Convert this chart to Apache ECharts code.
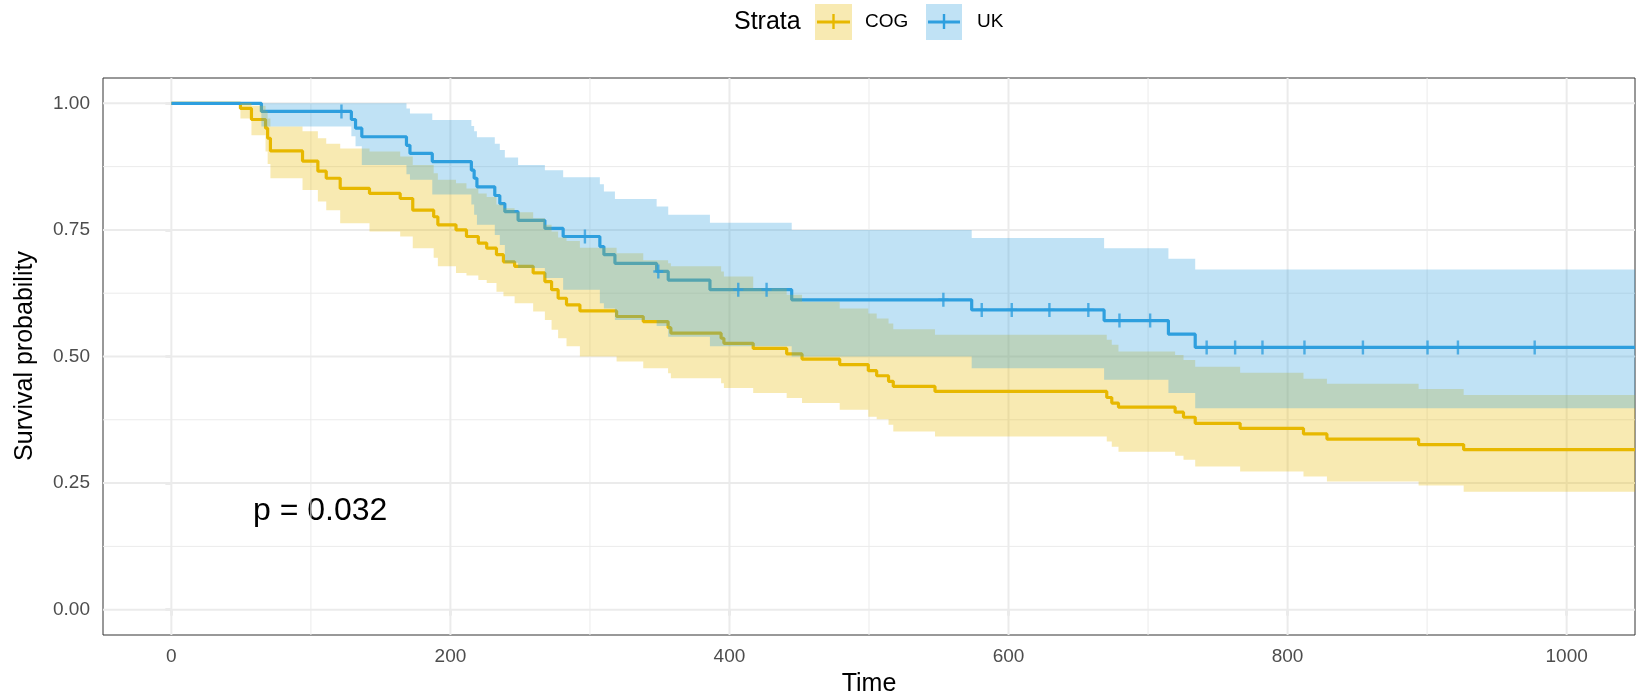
<!DOCTYPE html>
<html>
<head>
<meta charset="utf-8">
<script src="https://cdn.jsdelivr.net/npm/echarts@6/dist/echarts.min.js"></script>
<style>
  html, body { margin: 0; padding: 0; background: #ffffff; }
  #chart { width: 1639px; height: 698px; }
</style>
</head>
<body>
<div id="chart"></div>
<script>
// Axis ticks and grid positions
const xTicks = [0, 200, 400, 600, 800, 1000];
const xMinor = [100, 300, 500, 700, 900];
const yTicks = [0, 0.25, 0.5, 0.75, 1];
const yMinor = [0.125, 0.375, 0.625, 0.875];

// End of follow-up shown on the time axis
const followUpEnd = 1049;

// COG: Kaplan-Meier estimate with 95% confidence band (value holds from each time onward)
const cogTime = [0, 49.5, 57.4, 67.5, 69, 71, 94, 105, 111, 121, 142, 164, 173, 188, 191, 204, 211.5, 220, 226, 233,
  238, 246, 259.3, 267.7, 272.5, 277.2, 283.2, 292.8, 319.1, 338.2, 356, 358, 394, 396, 417, 441, 452, 479, 499.5, 505.5,
  514, 517.4, 547.3, 670.4, 674, 678.8, 719.4, 725.4, 733.8, 766, 811.4, 828.2, 893.9, 926.2];
const cogSurv = [1.000, 0.990, 0.968, 0.951, 0.931, 0.906, 0.886, 0.866, 0.852, 0.832, 0.822, 0.812, 0.789, 0.776, 0.760, 0.750, 0.737, 0.724, 0.714, 0.701,
  0.687, 0.678, 0.665, 0.648, 0.632, 0.615, 0.602, 0.590, 0.579, 0.569, 0.557, 0.546, 0.536, 0.526, 0.516, 0.505, 0.495, 0.484, 0.472, 0.462,
  0.451, 0.441, 0.431, 0.419, 0.408, 0.400, 0.390, 0.380, 0.368, 0.358, 0.347, 0.337, 0.326, 0.316];
const cogUpper = [1.000, 1.000, 0.995, 0.985, 0.970, 0.954, 0.945, 0.931, 0.920, 0.911, 0.905, 0.895, 0.878, 0.862, 0.849, 0.842, 0.832, 0.822, 0.815, 0.800,
  0.793, 0.785, 0.773, 0.760, 0.747, 0.735, 0.728, 0.715, 0.704, 0.690, 0.684, 0.678, 0.668, 0.658, 0.635, 0.622, 0.608, 0.595, 0.585, 0.575,
  0.565, 0.554, 0.543, 0.533, 0.523, 0.510, 0.503, 0.493, 0.480, 0.468, 0.456, 0.446, 0.436, 0.424];
const cogLower = [1.000, 0.970, 0.937, 0.905, 0.880, 0.852, 0.829, 0.806, 0.789, 0.763, 0.747, 0.737, 0.714, 0.695, 0.678, 0.665, 0.660, 0.651, 0.645, 0.628,
  0.619, 0.605, 0.589, 0.572, 0.553, 0.536, 0.520, 0.500, 0.490, 0.477, 0.467, 0.457, 0.447, 0.438, 0.428, 0.418, 0.408, 0.395, 0.381, 0.376,
  0.365, 0.352, 0.342, 0.332, 0.322, 0.312, 0.304, 0.296, 0.283, 0.273, 0.263, 0.253, 0.245, 0.233];

// UK: Kaplan-Meier estimate with 95% confidence band
const ukTime = [0, 64.5, 129, 132, 136.5, 168.5, 171, 187, 215, 217, 219, 231.8, 235.4, 239, 248.5, 267.7, 280.8, 307.1, 310, 317.9,
  347.8, 356.1, 386, 444.6, 573.6, 668.5, 714.6, 733.8];
const ukSurv = [1.000, 0.984, 0.968, 0.951, 0.934, 0.917, 0.901, 0.885, 0.868, 0.852, 0.835, 0.818, 0.802, 0.786, 0.769, 0.753, 0.737, 0.717, 0.701, 0.684,
  0.668, 0.651, 0.632, 0.612, 0.592, 0.571, 0.544, 0.518];
const ukUpper = [1.000, 1.000, 1.000, 1.000, 1.000, 0.990, 0.980, 0.967, 0.955, 0.945, 0.933, 0.920, 0.908, 0.893, 0.878, 0.868, 0.854, 0.840, 0.826, 0.811,
  0.796, 0.780, 0.764, 0.750, 0.734, 0.714, 0.693, 0.672];
const ukLower = [1.000, 0.954, 0.935, 0.915, 0.878, 0.860, 0.849, 0.820, 0.800, 0.780, 0.760, 0.740, 0.720, 0.685, 0.675, 0.655, 0.632, 0.605, 0.595, 0.572,
  0.560, 0.539, 0.520, 0.500, 0.477, 0.454, 0.428, 0.398];
// UK censoring times
const ukCensor = [121.9, 296.4, 349, 406.3, 426.6, 553.3, 580.8, 602.3, 629.3, 657.2, 679.5, 701.5, 742, 762.4, 782, 812.1, 854, 900.3, 922.1, 977.1];

const pValueText = 'p = 0.032';

const COG_COLOR = '#E7B800';
const UK_COLOR = '#2E9FDF';
const COG_FILL = 'rgba(231,184,0,0.3)';
const UK_FILL = 'rgba(46,159,223,0.3)';
const GRID_COLOR = '#ebebeb';
const FONT = '"Liberation Sans", Arial, Helvetica, sans-serif';

// Step-function value at time t
function stepValue(times, values, t) {
  let v = values[0];
  for (let i = 0; i < times.length; i++) {
    if (times[i] <= t) v = values[i]; else break;
  }
  return v;
}

function stepLineData(times, values) {
  const d = times.map((t, i) => [t, values[i]]);
  d.push([followUpEnd, values[values.length - 1]]);
  return d;
}

// Confidence band as a stepped polygon drawn through the axis scales
function bandSeries(times, upper, lower, fill) {
  return {
    type: 'custom',
    z: 3,
    silent: true,
    clip: true,
    data: [[0, 1]],
    renderItem: function (params, api) {
      const pts = [];
      for (let i = 0; i < times.length; i++) {
        const x0 = times[i];
        const x1 = i < times.length - 1 ? times[i + 1] : followUpEnd;
        pts.push(api.coord([x0, upper[i]]));
        pts.push(api.coord([x1, upper[i]]));
      }
      for (let i = times.length - 1; i >= 0; i--) {
        const x0 = times[i];
        const x1 = i < times.length - 1 ? times[i + 1] : followUpEnd;
        pts.push(api.coord([x1, lower[i]]));
        pts.push(api.coord([x0, lower[i]]));
      }
      return { type: 'polygon', shape: { points: pts }, style: { fill: fill } };
    }
  };
}

// Panel grid lines (major and minor), drawn beneath all data
const gridSeries = {
  type: 'custom',
  z: 1,
  silent: true,
  clip: true,
  data: [[0, 0]],
  renderItem: function (params, api) {
    const xMin = -49, xMax = followUpEnd, yMin = -0.05, yMax = 1.05;
    const children = [];
    const hLine = (v, w) => {
      const a = api.coord([xMin, v]), b = api.coord([xMax, v]);
      children.push({ type: 'line', shape: { x1: a[0], y1: a[1], x2: b[0], y2: b[1] }, style: { stroke: GRID_COLOR, lineWidth: w } });
    };
    const vLine = (v, w) => {
      const a = api.coord([v, yMin]), b = api.coord([v, yMax]);
      children.push({ type: 'line', shape: { x1: a[0], y1: a[1], x2: b[0], y2: b[1] }, style: { stroke: GRID_COLOR, lineWidth: w } });
    };
    yMinor.forEach(v => hLine(v, 1));
    xMinor.forEach(v => vLine(v, 1));
    yTicks.forEach(v => hLine(v, 2));
    xTicks.forEach(v => vLine(v, 2));
    return { type: 'group', children: children };
  }
};

const plusPath = 'path://M-1.2,-7 L1.2,-7 L1.2,-1.2 L5,-1.2 L5,1.2 L1.2,1.2 L1.2,7 L-1.2,7 L-1.2,1.2 L-5,1.2 L-5,-1.2 L-1.2,-1.2 Z';

const chart = echarts.init(document.getElementById('chart'), null, { renderer: 'canvas' });

const option = {
  animation: false,
  backgroundColor: '#ffffff',
  grid: {
    left: 103, top: 78, width: 1532, height: 557,
    show: true, borderColor: '#333333', borderWidth: 1, backgroundColor: '#ffffff'
  },
  xAxis: {
    type: 'value', min: -49, max: followUpEnd,
    axisLine: { show: false },
    axisTick: { show: true, customValues: xTicks, length: 6, lineStyle: { color: '#333333', width: 1.2 } },
    axisLabel: { customValues: xTicks, fontSize: 19, fontFamily: FONT, color: '#4d4d4d', margin: 12,
      formatter: v => String(v) },
    splitLine: { show: false }
  },
  yAxis: {
    type: 'value', min: -0.05, max: 1.05,
    axisLine: { show: false },
    axisTick: { show: true, customValues: yTicks, length: 6, lineStyle: { color: '#333333', width: 1.2 } },
    axisLabel: { customValues: yTicks, fontSize: 19, fontFamily: FONT, color: '#4d4d4d', margin: 13,
      formatter: v => v.toFixed(2) },
    splitLine: { show: false }
  },
  series: [
    gridSeries,
    {
      name: 'COG', type: 'line', step: 'end', z: 2, showSymbol: false, silent: true,
      data: stepLineData(cogTime, cogSurv),
      lineStyle: { color: COG_COLOR, width: 3.2 }
    },
    {
      name: 'UK', type: 'line', step: 'end', z: 2, showSymbol: false, silent: true,
      data: stepLineData(ukTime, ukSurv),
      lineStyle: { color: UK_COLOR, width: 3.2 }
    },
    bandSeries(cogTime, cogUpper, cogLower, COG_FILL),
    bandSeries(ukTime, ukUpper, ukLower, UK_FILL),
    {
      name: 'UK censored', type: 'scatter', z: 4, silent: true,
      symbol: plusPath, symbolSize: [10, 14],
      itemStyle: { color: UK_COLOR },
      data: ukCensor.map(t => [t, stepValue(ukTime, ukSurv, t)])
    }
  ],
  graphic: [
    // axis titles
    { type: 'text', x: 869, y: 684, silent: true,
      style: { text: 'Time', fontSize: 25, fontFamily: FONT, fill: '#000000', align: 'center', verticalAlign: 'middle' } },
    { type: 'text', x: 25, y: 356, rotation: Math.PI / 2, silent: true,
      style: { text: 'Survival probability', fontSize: 25, fontFamily: FONT, fill: '#000000', align: 'center', verticalAlign: 'middle' } },
    // log-rank p-value
    { type: 'text', x: 253, y: 511, silent: true,
      style: { text: pValueText, fontSize: 32, fontFamily: FONT, fill: '#000000', align: 'left', verticalAlign: 'middle' } },
    // legend
    { type: 'text', x: 734, y: 22, silent: true,
      style: { text: 'Strata', fontSize: 25, fontFamily: FONT, fill: '#000000', align: 'left', verticalAlign: 'middle' } },
    { type: 'rect', shape: { x: 815, y: 4, width: 37, height: 36 }, style: { fill: COG_FILL }, silent: true },
    { type: 'line', shape: { x1: 817, y1: 22, x2: 850, y2: 22 }, style: { stroke: COG_COLOR, lineWidth: 3 }, silent: true },
    { type: 'line', shape: { x1: 833.5, y1: 14, x2: 833.5, y2: 29 }, style: { stroke: COG_COLOR, lineWidth: 2.4 }, silent: true },
    { type: 'text', x: 865, y: 22, silent: true,
      style: { text: 'COG', fontSize: 19, fontFamily: FONT, fill: '#000000', align: 'left', verticalAlign: 'middle' } },
    { type: 'rect', shape: { x: 926, y: 4, width: 36, height: 36 }, style: { fill: UK_FILL }, silent: true },
    { type: 'line', shape: { x1: 928, y1: 22, x2: 960, y2: 22 }, style: { stroke: UK_COLOR, lineWidth: 3 }, silent: true },
    { type: 'line', shape: { x1: 944, y1: 14, x2: 944, y2: 29 }, style: { stroke: UK_COLOR, lineWidth: 2.4 }, silent: true },
    { type: 'text', x: 977, y: 22, silent: true,
      style: { text: 'UK', fontSize: 19, fontFamily: FONT, fill: '#000000', align: 'left', verticalAlign: 'middle' } }
  ]
};

chart.setOption(option);
</script>
</body>
</html>
